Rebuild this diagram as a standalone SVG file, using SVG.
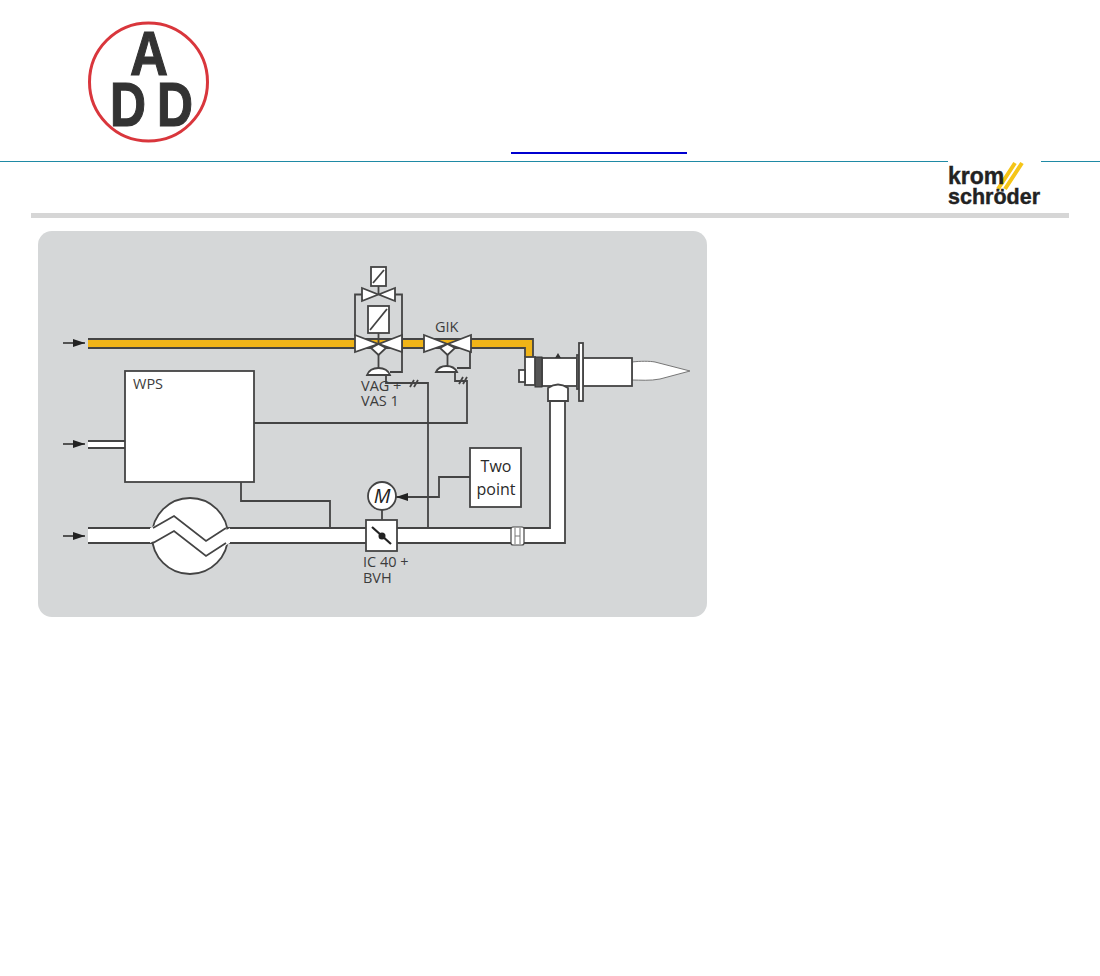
<svg xmlns="http://www.w3.org/2000/svg" width="1100" height="976" viewBox="0 0 1100 976">
<defs>
<marker id="arr" markerUnits="userSpaceOnUse" markerWidth="12" markerHeight="8" refX="12" refY="4" orient="auto"><path d="M0 0L12 4L0 8z" fill="#222"/></marker>
</defs>
<style>
.s{fill:#fff;stroke:#444;stroke-width:1.8}
.l{fill:none;stroke:#444;stroke-width:1.8}
.t{font-family:"Open Sans","Noto Sans",sans-serif;font-size:14.500px;fill:#3c3c3c}
.b{font-size:16px;fill:#2a2a2a}
.a{font-family:"Liberation Sans",sans-serif;font-weight:700;font-size:63px;fill:#333;stroke:#333;stroke-width:1.2}
.k{font-family:"Liberation Sans",sans-serif;font-weight:700;fill:#222;stroke:#222;stroke-width:.4}
.y{stroke:#f5c518;stroke-width:4;fill:none}
</style>
<rect width="1100" height="976" fill="#fff"/>
<g id="header">
<rect x="511" y="152" width="176" height="2" fill="#0000d0"/>
<path d="M0 161H948V162H0ZM1041 161H1100V162H1041Z" fill="#1f8aa5"/>
<rect x="31" y="213" width="1038" height="5" fill="#d6d6d6"/>
</g>
<g id="add-logo">
<circle cx="148.500" cy="82" r="59" fill="#fff" stroke="#d9363c" stroke-width="3"/>
<text class="a" x="130" y="75" textLength="38" lengthAdjust="spacingAndGlyphs">A</text>
<text class="a" x="110" y="126" textLength="36" lengthAdjust="spacingAndGlyphs">D</text>
<text class="a" x="157" y="126" textLength="36" lengthAdjust="spacingAndGlyphs">D</text>
</g>
<g id="krom-logo">
<path class="y" d="M998 189L1015 163M1005 189L1022 163"/>
<text class="k" font-size="23"><tspan x="948" y="184">krom</tspan><tspan x="948" y="204" font-size="21.500">schröder</tspan></text>
</g>
<rect id="panel" x="38" y="231" width="669" height="386" rx="14" fill="#d5d7d8"/>
<g id="connectors">
<path class="l" d="M254 423H467V381H455V372"/>
<path class="l" d="M386 375V383H428V528"/>
<path class="l" d="M241 482V501H330V528"/>
<path class="l" d="M470 477H439V497H396" marker-end="url(#arr)"/>
<path class="l" d="M382 510V520"/>
<path class="l" d="M410 387L414 380M414 387L418 380M459 384L463 377M463 384L467 377"/>
<path class="l" d="M63 343H85" marker-end="url(#arr)"/>
<path class="l" d="M63 444H85" marker-end="url(#arr)"/>
<path class="l" d="M63 536H85" marker-end="url(#arr)"/>
</g>
<g id="gas-pipe">
<path d="M88 339H533V357H525V348H88Z" fill="#f0b418"/>
<path d="M88 339H533V357M525 357V348H88" class="l"/>
</g>
<g id="air-pipes">
<rect x="88" y="441" width="37" height="7" fill="#fff"/>
<path class="l" d="M88 441H125M88 448H125"/>
<path d="M88 528H550V385H565V543H88Z" fill="#fff"/>
<path class="l" d="M88 528H550V395M565 395V543H88"/>
</g>
<g id="wps">
<rect class="s" x="125" y="371" width="129" height="111"/>
<text class="t" x="133" y="389">WPS</text>
</g>
<g id="heat-exchanger">
<circle class="s" cx="190" cy="536" r="38"/>
<path d="M150 528L174 516L206 541L230 528V543L206 556L174 531L150 543Z" fill="#fff"/>
<path class="l" d="M153 528L174 516L206 541L226 528M153 543L174 531L206 556L226 543"/>
</g>
<g id="vag-vas">
<path class="l" d="M362 294.500H355V336M395 294.500H402V372H390M378.500 286V294M378.500 333V344M378.500 355V368"/>
<rect class="s" x="371" y="267" width="15" height="19"/>
<path class="l" d="M373 283L384 270"/>
<path class="s" d="M362 288L378.500 294.500L395 288V301L378.500 294.500L362 301Z"/>
<rect class="s" x="368" y="306" width="21" height="27"/>
<path class="l" d="M370 330L387 309"/>
<path class="s" d="M355 335L378.500 344L402 335V352L378.500 344L355 352Z"/>
<path class="s" d="M378.500 344L386 348L378.500 355L371 348Z"/>
<path class="s" d="M367 375C369 370 373 368 378.500 368C384 368 388 370 390 375Z"/>
<text class="t"><tspan x="361" y="391">VAG +</tspan><tspan x="361" y="406">VAS 1</tspan></text>
</g>
<g id="gik">
<path class="l" d="M470 352V368H457M447.500 344V366"/>
<path class="s" d="M424 335L447.500 344L471 335V352L447.500 344L424 352Z"/>
<path class="s" d="M447.500 344L455 348L447.500 355L440 348Z"/>
<path class="s" d="M436 372C438 368 442 366 446.500 366C451 366 455 368 457 372Z"/>
<text class="t" x="435" y="332">GIK</text>
</g>
<g id="motor">
<circle class="s" cx="382" cy="496" r="14"/>
<text x="382" y="503" text-anchor="middle" font-family="Open Sans,sans-serif" font-style="italic" font-size="20" fill="#222">M</text>
</g>
<g id="two-point">
<rect class="s" x="470" y="448" width="51" height="59"/>
<text class="t b" text-anchor="middle"><tspan x="496" y="472">Two</tspan><tspan x="496" y="495">point</tspan></text>
</g>
<g id="ic40-bvh">
<rect class="s" x="366" y="520" width="31" height="31"/>
<path d="M372 527L391 544" stroke="#222" stroke-width="2.200" fill="none"/>
<circle cx="382" cy="536" r="3.500" fill="#222"/>
<text class="t"><tspan x="363" y="567">IC 40 +</tspan><tspan x="363" y="583">BVH</tspan></text>
</g>
<g id="orifice">
<rect class="s" x="511" y="527" width="13" height="18" rx="2" stroke-width="1.200" style="stroke-width:1.200"/>
<path d="M515 528V544M520 528V544M515 536H520" fill="none" stroke="#777" stroke-width="1"/>
</g>
<g id="burner">
<path d="M632 362C640 361 650 361 655 362L690 371L660 379C650 381 640 380 632 380Z" fill="#fff" stroke="#777" stroke-width="1"/>
<rect class="s" x="583" y="358" width="49" height="28"/>
<rect class="s" x="542" y="358" width="35" height="28"/>
<path d="M558 353L561 358H555Z" fill="#333"/>
<rect class="s" x="577" y="355" width="2" height="34"/>
<rect class="s" x="579" y="343" width="4" height="58"/>
<rect x="535" y="357" width="7" height="30" fill="#555" stroke="#333" stroke-width="1"/>
<rect class="s" x="525" y="357" width="10" height="28"/>
<rect class="s" x="519" y="370" width="6" height="12"/>
<path d="M548 401V388Q558 381 568 388V401Z" fill="#fff" stroke="#444" stroke-width="1.800"/>
</g>
</svg>
